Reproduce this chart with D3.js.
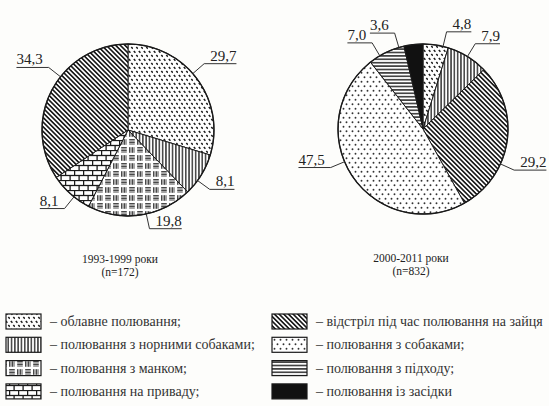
<!DOCTYPE html>
<html>
<head>
<meta charset="utf-8">
<script src="https://cdn.jsdelivr.net/npm/d3@7"></script>
<style>
  body { margin: 0; background: #fdfdfb; }
  svg text { font-family: "Liberation Serif", "Times New Roman", serif; }
  .num { font-size: 15px; fill: #222; }
  .title { font-size: 11.5px; fill: #222; }
  .legend text { font-size: 14px; fill: #333; }
</style>
</head>
<body>
<svg id="chart"></svg>
<script>
// hunting methods (legend order)
const categories = [
  "облавне полювання;",
  "полювання з норними собаками;",
  "полювання з манком;",
  "полювання на приваду;",
  "відстріл під час полювання на зайця",
  "полювання з собаками;",
  "полювання з підходу;",
  "полювання із засідки"
];

// 1993-1999
const leftCats = [0, 1, 2, 3, 4];
const leftValues = [29.7, 8.1, 19.8, 8.1, 34.3];

// 2000-2011
const rightCats = [0, 1, 4, 5, 6, 7];
const rightValues = [4.8, 7.9, 29.2, 47.5, 7.0, 3.6];

const pieTitles = [["1993-1999 роки", "(n=172)"], ["2000-2011 роки", "(n=832)"]];

const width = 549, height = 406;
const svg = d3.select("#chart").attr("width", width).attr("height", height);

// ---- hatch patterns ----
const defs = svg.append("defs");
const ink = "#1a1a1a";
function pattern(id, w, h, transform) {
  const p = defs.append("pattern")
    .attr("id", id)
    .attr("patternUnits", "userSpaceOnUse")
    .attr("width", w)
    .attr("height", h);
  if (transform) p.attr("patternTransform", transform);
  p.append("rect").attr("width", w).attr("height", h).attr("fill", "#fff");
  return p;
}
function line(p, x1, y1, x2, y2, sw) {
  p.append("line").attr("x1", x1).attr("y1", y1).attr("x2", x2).attr("y2", y2)
    .attr("stroke", ink).attr("stroke-width", sw);
}

// 0 облавне: staggered short dashes
let p = pattern("pat0", 5, 8);
line(p, 0.8, 0.9, 2.4, 2.7, 1.5);
line(p, 3.3, 4.9, 4.9, 6.7, 1.5);

// 1 норними собаками: vertical lines
p = pattern("pat1", 3.3, 4);
line(p, 1.65, 0, 1.65, 4, 1.3);

// 2 манком: basket weave
p = pattern("pat2", 16, 16);
[[0, 0, "v"], [8, 0, "h"], [0, 8, "h"], [8, 8, "v"]].forEach(([ox, oy, dir]) => {
  [1.5, 3, 4.5, 6].forEach((k) => {
    if (dir === "v") line(p, ox + k, oy + 1.2, ox + k, oy + 6.8, 0.8);
    else line(p, ox + 1.2, oy + k, ox + 6.8, oy + k, 0.8);
  });
});

// 3 приваду: bricks
p = pattern("pat3", 9, 10);
line(p, 0, 0.5, 9, 0.5, 1.3);
line(p, 0, 5.5, 9, 5.5, 1.3);
line(p, 0.6, 0.5, 0.6, 5.5, 1.3);
line(p, 5.1, 5.5, 5.1, 10.5, 1.3);

// 4 заєць: diagonal lines
p = pattern("pat4", 3.3, 3.3, "rotate(-45)");
line(p, 1.65, 0, 1.65, 3.3, 1.7);

// 5 собаками: sparse dots
p = pattern("pat5", 6, 9);
p.append("circle").attr("cx", 1.5).attr("cy", 2.2).attr("r", 0.95).attr("fill", "#333");
p.append("circle").attr("cx", 4.5).attr("cy", 6.7).attr("r", 0.95).attr("fill", "#333");

// 6 підходу: horizontal lines
p = pattern("pat6", 4, 3.4);
line(p, 0, 1.7, 4, 1.7, 1.4);

const fill = (i) => (i === 7 ? "#111" : `url(#pat${i})`);

// ---- pies ----
const fmt = (v) => d3.format(".1f")(v).replace(".", ",");
const pie = d3.pie().sort(null).value((d) => d.value);

function drawPie(cats, values, cx, cy, r, nudge, title, titleX) {
  const data = cats.map((c, i) => ({ cat: c, value: values[i] }));
  const arcs = pie(data);
  const arc = d3.arc().innerRadius(0).outerRadius(r);
  const g = svg.append("g").attr("transform", `translate(${cx},${cy})`);

  g.selectAll("path.slice")
    .data(arcs)
    .enter()
    .append("path")
    .attr("class", "slice")
    .attr("d", arc)
    .attr("fill", (d) => fill(d.data.cat))
    .attr("stroke", ink)
    .attr("stroke-width", 1);

  g.append("circle").attr("r", r).attr("fill", "none").attr("stroke", ink).attr("stroke-width", 1.4);

  // leader labels
  const rElbow = r + 15;
  arcs.forEach((d, i) => {
    const a = (d.startAngle + d.endAngle) / 2 + (nudge[i] * Math.PI) / 180;
    const side = Math.sin(a) >= 0 ? 1 : -1;
    const x0 = r * Math.sin(a), y0 = -r * Math.cos(a);
    const x1 = rElbow * Math.sin(a), y1 = -rElbow * Math.cos(a);
    const t = g.append("text")
      .attr("class", "num")
      .attr("y", y1 - 3)
      .text(fmt(d.data.value));
    const tw = t.node().getComputedTextLength();
    const x2 = x1 + side * (tw + 6);
    t.attr("x", x2).attr("text-anchor", side > 0 ? "end" : "start");
    g.append("polyline")
      .attr("points", `${x0},${y0} ${x1},${y1} ${x2},${y1}`)
      .attr("fill", "none")
      .attr("stroke", "#333")
      .attr("stroke-width", 1);
  });

  svg.append("text").attr("class", "title").attr("text-anchor", "middle")
    .attr("x", titleX).attr("y", cy + 133).text(title[0]);
  svg.append("text").attr("class", "title").attr("text-anchor", "middle")
    .attr("x", titleX).attr("y", cy + 146).text(title[1]);
}

drawPie(leftCats, leftValues, 128, 130, 86, [-4.5, 4.5, -4, -3, 10], pieTitles[0], 120);
drawPie(rightCats, rightValues, 423, 129, 85, [5, 0, 16, 11, -5, -10], pieTitles[1], 411);

// ---- legend ----
const legend = svg.append("g").attr("class", "legend");
categories.forEach((c, i) => {
  const col = i < 4 ? 0 : 1;
  const row = i % 4;
  const x = [6, 272][col];
  const y = 314 + row * 23.3;
  legend.append("rect")
    .attr("x", x).attr("y", y).attr("width", 35).attr("height", 15)
    .attr("fill", fill(i)).attr("stroke", ink).attr("stroke-width", 1.2);
  legend.append("text").attr("x", x + 44).attr("y", y + 12).text("– " + c);
});
</script>
</body>
</html>
